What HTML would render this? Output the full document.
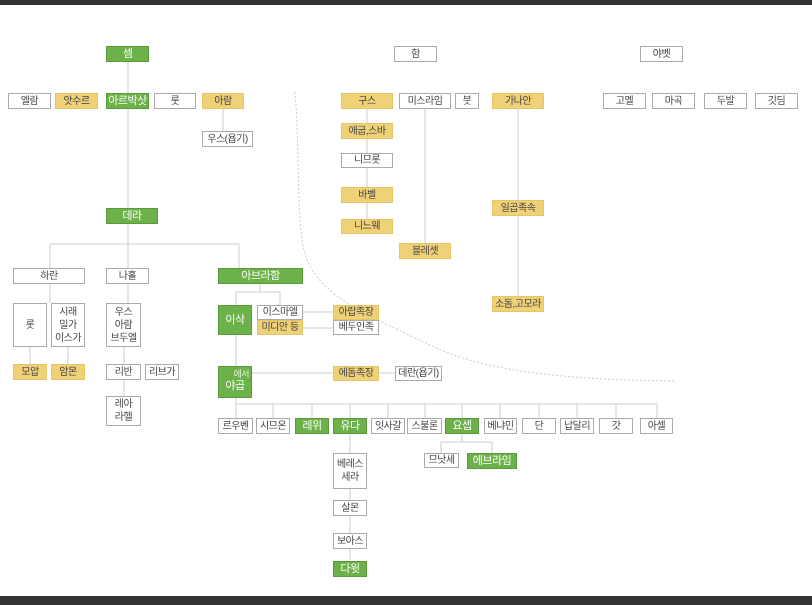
<!DOCTYPE html>
<html><head><meta charset="utf-8"><style>
body{margin:0;width:812px;height:605px;background:#fff;position:relative;overflow:hidden;font-family:"Liberation Sans","Noto Sans CJK KR","NanumGothic",sans-serif;}
.b{position:absolute;box-sizing:border-box;border:1px solid #aaa;background:#fff;color:#444;font-size:10px;display:flex;align-items:center;justify-content:center;text-align:center;line-height:13px;letter-spacing:-0.5px}
.g{background:#6cb14a;border-color:#5a9a3c;color:#fff;font-size:11px}
.y{background:#efd177;border-color:#e6c567;color:#444}
svg{position:absolute;left:0;top:0}
</style></head><body>
<div style="position:absolute;left:0;top:0;width:812px;height:5px;background:#333"></div>
<div style="position:absolute;left:0;top:596px;width:812px;height:9px;background:#333"></div>
<svg width="812" height="605">
<g stroke="#ccc" stroke-width="1" fill="none">
<path d="M128 62V208M128 224V244M50 244H239M50 244V268M128 244V268M239 244V268"/>
<path d="M223 109V131M50 284V303M30 347V364M68 347V364M128 284V303M124 347V364M124 380V396"/>
<path d="M260 284V292M236 292H280M236 292V305M280 292V305M303 312H333M303 328H333M236 335V366M252 373H333M379 373H395"/>
<path d="M236 398V404M236 404H657M236 404V418M273 404V418M312 404V418M350 404V418M388 404V418M425 404V418M462 404V418M500 404V418M539 404V418M577 404V418M616 404V418M657 404V418"/>
<path d="M350 434V453M350 489V500M350 516V533M350 549V560M462 434V442M441 442H492M441 442V453M492 442V453"/>
<path d="M367 109V123M367 139V153M367 168V187M367 203V219M425 109V243M518 109V200M518 216V296"/>
</g>
<path d="M295 92C300 150 296 220 305 255C320 300 380 320 430 345C480 370 560 380 676 381" stroke="#ccc" stroke-dasharray="2,2" fill="none"/>
</svg>
<div class="b g" style="left:106px;top:46px;width:43px;height:16px">셈</div>
<div class="b" style="left:8px;top:93px;width:43px;height:16px">엘람</div>
<div class="b y" style="left:55px;top:93px;width:43px;height:16px">앗수르</div>
<div class="b g" style="left:106px;top:93px;width:43px;height:16px">아르박삿</div>
<div class="b" style="left:154px;top:93px;width:42px;height:16px">룻</div>
<div class="b y" style="left:202px;top:93px;width:42px;height:16px">아람</div>
<div class="b" style="left:202px;top:131px;width:51px;height:16px">우스(욥기)</div>
<div class="b g" style="left:106px;top:208px;width:52px;height:16px">데라</div>
<div class="b" style="left:13px;top:268px;width:72px;height:16px">하란</div>
<div class="b" style="left:106px;top:268px;width:43px;height:16px">나홀</div>
<div class="b g" style="left:218px;top:268px;width:85px;height:16px">아브라함</div>
<div class="b" style="left:13px;top:303px;width:34px;height:44px">롯</div>
<div class="b" style="left:51px;top:303px;width:34px;height:44px">시래<br>밀가<br>이스가</div>
<div class="b y" style="left:13px;top:364px;width:34px;height:16px">모압</div>
<div class="b y" style="left:51px;top:364px;width:34px;height:16px">암몬</div>
<div class="b" style="left:106px;top:303px;width:35px;height:44px">우스<br>아람<br>브두엘</div>
<div class="b" style="left:106px;top:364px;width:35px;height:16px">리반</div>
<div class="b" style="left:145px;top:364px;width:34px;height:16px">리브가</div>
<div class="b" style="left:106px;top:396px;width:35px;height:30px">레아<br>라헬</div>
<div class="b g" style="left:218px;top:305px;width:34px;height:30px">이삭</div>
<div class="b" style="left:257px;top:305px;width:46px;height:15px">이스마엘</div>
<div class="b y" style="left:257px;top:320px;width:46px;height:15px">미디안 등</div>
<div class="b y" style="left:333px;top:305px;width:46px;height:15px">아랍족장</div>
<div class="b" style="left:333px;top:320px;width:46px;height:15px">베두인족</div>
<div class="b g" style="left:218px;top:366px;width:34px;height:32px;padding-top:8px">야곱<span style="position:absolute;right:2px;top:1px;font-size:9px;color:#e8f5df">에서</span></div>
<div class="b y" style="left:333px;top:366px;width:46px;height:15px">에돔족장</div>
<div class="b" style="left:395px;top:366px;width:47px;height:15px">데란(욥기)</div>
<div class="b" style="left:218px;top:418px;width:35px;height:16px">르우벤</div>
<div class="b" style="left:256px;top:418px;width:34px;height:16px">시므온</div>
<div class="b g" style="left:295px;top:418px;width:34px;height:16px">레위</div>
<div class="b g" style="left:333px;top:418px;width:34px;height:16px">유다</div>
<div class="b" style="left:371px;top:418px;width:34px;height:16px">잇사갈</div>
<div class="b" style="left:407px;top:418px;width:35px;height:16px">스불론</div>
<div class="b g" style="left:445px;top:418px;width:34px;height:16px">요셉</div>
<div class="b" style="left:484px;top:418px;width:33px;height:16px">베냐민</div>
<div class="b" style="left:522px;top:418px;width:34px;height:16px">단</div>
<div class="b" style="left:560px;top:418px;width:34px;height:16px">납달리</div>
<div class="b" style="left:599px;top:418px;width:34px;height:16px">갓</div>
<div class="b" style="left:640px;top:418px;width:33px;height:16px">아셀</div>
<div class="b" style="left:424px;top:453px;width:35px;height:15px">므낫세</div>
<div class="b g" style="left:467px;top:453px;width:50px;height:16px">에브라임</div>
<div class="b" style="left:333px;top:453px;width:34px;height:36px">베레스<br>세라</div>
<div class="b" style="left:333px;top:500px;width:34px;height:16px">살몬</div>
<div class="b" style="left:333px;top:533px;width:34px;height:16px">보아스</div>
<div class="b g" style="left:333px;top:561px;width:34px;height:16px">다윗</div>
<div class="b" style="left:394px;top:46px;width:43px;height:16px">함</div>
<div class="b" style="left:640px;top:46px;width:43px;height:16px">야벳</div>
<div class="b y" style="left:341px;top:93px;width:52px;height:16px">구스</div>
<div class="b" style="left:399px;top:93px;width:52px;height:16px">미스라임</div>
<div class="b" style="left:455px;top:93px;width:24px;height:16px">붓</div>
<div class="b y" style="left:492px;top:93px;width:52px;height:16px">가나안</div>
<div class="b y" style="left:341px;top:123px;width:52px;height:16px">애굽,스바</div>
<div class="b" style="left:341px;top:153px;width:52px;height:15px">니므롯</div>
<div class="b y" style="left:341px;top:187px;width:52px;height:16px">바벨</div>
<div class="b y" style="left:341px;top:219px;width:52px;height:15px">니느웨</div>
<div class="b y" style="left:399px;top:243px;width:52px;height:16px">블레셋</div>
<div class="b y" style="left:492px;top:200px;width:52px;height:16px">일곱족속</div>
<div class="b y" style="left:492px;top:296px;width:52px;height:16px">소돔,고모라</div>
<div class="b" style="left:603px;top:93px;width:43px;height:16px">고멜</div>
<div class="b" style="left:652px;top:93px;width:43px;height:16px">마곡</div>
<div class="b" style="left:704px;top:93px;width:43px;height:16px">두발</div>
<div class="b" style="left:755px;top:93px;width:43px;height:16px">깃딤</div>
</body></html>
